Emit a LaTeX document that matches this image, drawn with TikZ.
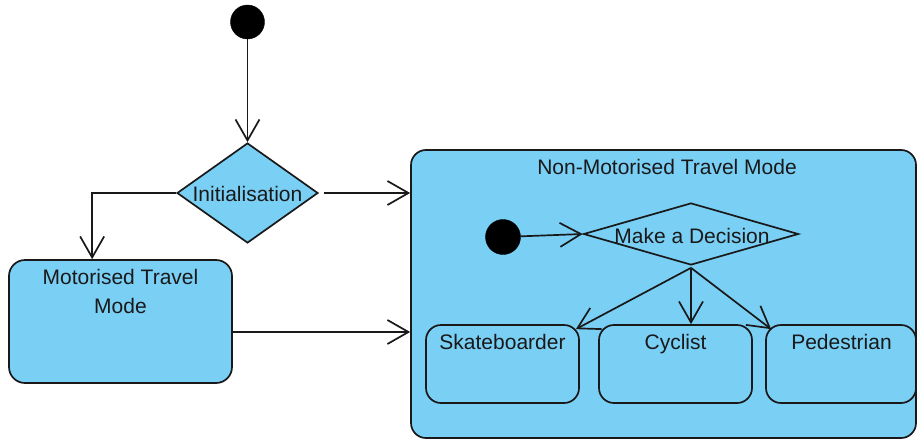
\documentclass[tikz,border=0pt]{standalone}
\usepackage{fontspec}
\setmainfont{Liberation Sans}
\usetikzlibrary{shapes.geometric,arrows.meta,calc}
\definecolor{umlblue}{RGB}{122,207,245}
\definecolor{umlline}{RGB}{25,25,25}
\begin{document}
\begin{tikzpicture}[x=1pt,y=-1pt,
  every node/.style={font=\fontsize{21}{29}\selectfont, text=umlline},
  flow/.style={draw=umlline, line width=1.7pt, -{Straight Barb[length=21pt,width=24pt]}},
  startdot/.style={circle, fill=black, draw=black, minimum size=34pt, inner sep=0pt},
  state/.style={draw=umlline, fill=umlblue, rounded corners=16pt, inner sep=0pt, line width=1.7pt},
  choice/.style={diamond, draw=umlline, inner sep=0pt, line width=1.7pt},
  txt/.style={anchor=base, inner sep=0pt, align=center}
]
\useasboundingbox (0,0) rectangle (917,439);

% composite state and its title
\node[state, rounded corners=15pt, minimum width=505pt, minimum height=288pt] (nbox) at (663.5,294) {};
\node[txt] (ntitle) at (667,174) {Non-Motorised Travel Mode};

% top-level flow
\node[startdot] (init) at (247.5,22) {};
\node[choice, fill=umlblue, minimum width=141pt, minimum height=100pt] (initd) at (247.5,193) {};
\node[txt] (initlbl) at (247.5,201) {Initialisation};

\node[state, minimum width=223pt, minimum height=123pt] (mbox) at (120.5,321.5) {};
% the base anchor of a two-line node sits on its last line
\node[txt] (mlbl) at (120.5,313) {Motorised Travel\\Mode};

% inner flow
\node[startdot, minimum size=35pt] (idot) at (503,237) {};
\node[choice, minimum width=215pt, minimum height=62pt] (dec) at (691,234) {};
\node[txt] (declbl) at (692,243) {Make a Decision};

\node[state, rounded corners=15pt, minimum width=153pt, minimum height=78pt] (sk) at (502.5,364) {};
\node[state, rounded corners=15pt, minimum width=153pt, minimum height=78pt] (cyc) at (675.5,364) {};
\node[state, rounded corners=15pt, minimum width=150pt, minimum height=78pt] (ped) at (841,364) {};
\node[txt] (sklbl) at (502.5,349) {Skateboarder};
\node[txt] (cyclbl) at (675.5,349) {Cyclist};
\node[txt] (pedlbl) at (841.5,349) {Pedestrian};

% connectors
\coordinate (mtop) at ($(mbox.north west)+(84,0)$);
\coordinate (mout) at ($(mbox.east)+(0,10.5)$);
\coordinate (dfork) at ($(dec.south)+(0,2)$);
\coordinate (skin) at ($(sk.north east)+(-4,5)$);
\coordinate (pedin) at ($(ped.north west)+(6,5)$);

\draw[flow] (init) -- (initd.north);
\draw[flow] (initd.west) -| (mtop);
\draw[flow, shorten <=5pt] (initd.east) -- (initd.east -| nbox.west);
\draw[flow] (mout) -- (mout -| nbox.west);
\draw[flow] (idot) -- (dec.west);
\draw[flow] (dfork) -- (skin);
\draw[flow] (dfork) -- (dfork |- cyc.north);
\draw[flow] (dfork) -- (pedin);
\end{tikzpicture}
\end{document}
